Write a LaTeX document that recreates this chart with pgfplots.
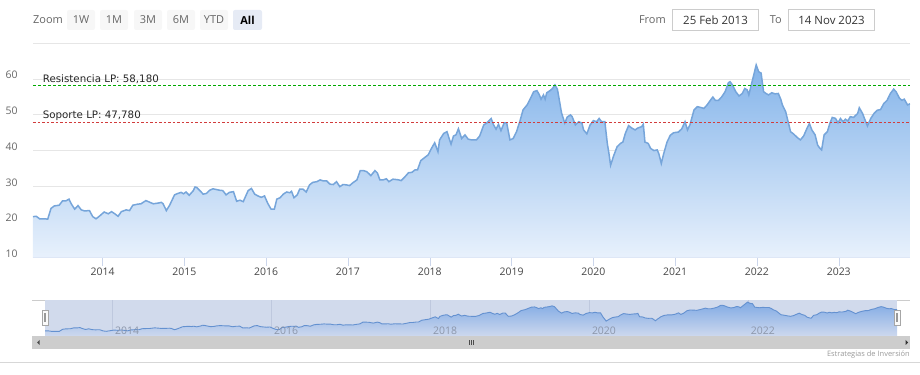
\documentclass[border=0pt]{standalone}
\usepackage{pgfplots}
\pgfplotsset{compat=1.18}
\usepackage{pgfplotstable}
\usepackage{fontspec}
\setmainfont{Open Sans}
\newfontfamily\labfont{DejaVu Sans}
\definecolor{gridc}{RGB}{230,230,230}
\definecolor{axisc}{RGB}{204,214,235}
\definecolor{labc}{RGB}{102,102,102}
\definecolor{xlabc}{RGB}{70,70,70}
\definecolor{linec}{RGB}{118,165,218}
\definecolor{areatop}{RGB}{132,180,234}
\definecolor{areabot}{RGB}{232,241,252}
\definecolor{supc}{RGB}{210,60,60}
\definecolor{navmask}{RGB}{209,218,236}
\definecolor{navline}{RGB}{100,145,208}
\definecolor{navtop}{RGB}{128,170,228}
\definecolor{navbot}{RGB}{205,216,238}
\definecolor{navgrid}{RGB}{190,200,222}
\definecolor{navlab}{RGB}{140,150,170}
\definecolor{scrollc}{RGB}{205,205,205}
\definecolor{btnc}{RGB}{247,247,247}
\definecolor{btnsel}{RGB}{230,235,245}
\definecolor{boxc}{RGB}{204,204,204}
\definecolor{sepc}{RGB}{215,215,215}

\pgfplotstableread{
t v
2013.15 21.5
2013.19 21.6
2013.23 20.9
2013.29 20.9
2013.33 20.8
2013.37 23.8
2013.41 24.5
2013.47 24.7
2013.51 25.9
2013.55 25.9
2013.59 26.4
2013.62 25.0
2013.66 23.6
2013.70 24.6
2013.74 23.4
2013.78 23.1
2013.84 23.2
2013.88 21.5
2013.92 20.9
2013.96 21.6
2014.02 22.8
2014.07 22.3
2014.11 22.9
2014.15 22.3
2014.19 21.6
2014.23 22.9
2014.29 23.4
2014.33 23.2
2014.37 24.7
2014.43 25.0
2014.47 25.1
2014.53 26.0
2014.58 25.5
2014.62 25.1
2014.68 25.3
2014.72 25.5
2014.74 25.1
2014.78 23.2
2014.82 24.7
2014.88 27.6
2014.92 28.0
2014.96 28.3
2014.99 27.9
2015.02 28.4
2015.06 27.5
2015.11 28.8
2015.13 29.8
2015.15 29.7
2015.19 28.8
2015.23 27.8
2015.27 28.0
2015.31 28.9
2015.35 29.3
2015.39 29.1
2015.43 28.9
2015.47 28.8
2015.51 27.6
2015.55 28.3
2015.60 28.5
2015.64 25.8
2015.68 26.1
2015.72 25.7
2015.78 28.8
2015.82 29.4
2015.86 27.8
2015.90 27.3
2015.94 26.9
2015.98 27.3
2016.02 25.2
2016.06 23.6
2016.10 23.6
2016.13 26.4
2016.17 26.8
2016.21 27.8
2016.25 28.4
2016.29 28.2
2016.31 28.6
2016.34 26.8
2016.38 27.6
2016.41 29.2
2016.45 29.2
2016.49 28.4
2016.53 30.4
2016.57 31.1
2016.62 31.3
2016.66 31.8
2016.70 31.5
2016.74 31.5
2016.78 30.6
2016.82 30.5
2016.86 31.3
2016.90 29.9
2016.94 30.5
2016.98 30.4
2017.02 30.2
2017.06 31.0
2017.11 31.8
2017.15 34.4
2017.19 34.4
2017.23 34.1
2017.28 33.0
2017.33 34.4
2017.36 33.7
2017.39 31.8
2017.43 31.8
2017.47 32.1
2017.50 31.3
2017.55 32.0
2017.62 31.8
2017.65 31.6
2017.69 32.5
2017.74 33.8
2017.78 33.9
2017.82 34.6
2017.85 34.6
2017.89 37.2
2017.94 38.1
2017.98 38.8
2018.02 40.6
2018.06 42.2
2018.10 39.7
2018.12 43.0
2018.17 44.8
2018.21 45.3
2018.26 41.8
2018.29 44.1
2018.32 44.4
2018.35 46.1
2018.39 43.4
2018.43 44.4
2018.47 43.2
2018.51 43.0
2018.57 43.0
2018.61 44.1
2018.66 47.2
2018.70 47.8
2018.75 49.0
2018.78 47.2
2018.81 46.0
2018.84 47.4
2018.87 45.6
2018.91 47.8
2018.94 47.8
2018.98 43.0
2019.02 43.4
2019.06 45.3
2019.10 48.1
2019.14 51.4
2019.19 52.8
2019.23 54.6
2019.27 56.5
2019.31 56.8
2019.34 55.6
2019.36 54.4
2019.39 55.6
2019.41 54.4
2019.43 56.2
2019.47 56.8
2019.50 57.4
2019.53 58.4
2019.56 57.2
2019.59 53.3
2019.61 50.6
2019.65 47.7
2019.68 49.4
2019.72 50.0
2019.74 49.5
2019.78 47.2
2019.82 48.1
2019.86 47.7
2019.88 45.8
2019.92 44.7
2019.96 47.2
2020.00 48.4
2020.04 48.1
2020.07 49.0
2020.10 48.1
2020.14 48.1
2020.17 42.0
2020.19 39.2
2020.21 35.9
2020.25 38.7
2020.29 41.1
2020.33 42.0
2020.36 42.4
2020.39 44.8
2020.43 47.0
2020.47 46.3
2020.51 45.8
2020.54 46.3
2020.59 46.7
2020.61 47.4
2020.63 42.4
2020.67 42.0
2020.70 40.6
2020.74 40.0
2020.78 40.2
2020.80 39.1
2020.83 36.4
2020.86 39.2
2020.90 42.4
2020.94 44.3
2020.98 45.0
2021.04 45.2
2021.08 46.1
2021.12 48.1
2021.15 45.8
2021.18 47.2
2021.23 51.4
2021.27 52.3
2021.31 52.1
2021.35 51.8
2021.39 52.8
2021.43 54.1
2021.46 55.0
2021.49 54.1
2021.53 54.1
2021.57 55.1
2021.61 56.5
2021.65 59.0
2021.67 59.3
2021.70 58.4
2021.74 56.5
2021.78 55.3
2021.82 56.0
2021.85 57.4
2021.88 57.0
2021.90 55.6
2021.93 58.4
2021.96 61.2
2021.99 64.0
2022.02 62.1
2022.05 61.7
2022.08 56.5
2022.11 56.0
2022.14 55.6
2022.18 56.2
2022.22 55.9
2022.26 56.0
2022.29 54.4
2022.31 52.8
2022.35 50.9
2022.38 48.1
2022.41 45.3
2022.45 44.6
2022.49 43.7
2022.53 43.0
2022.57 44.1
2022.61 46.2
2022.64 47.6
2022.67 45.8
2022.71 44.4
2022.74 41.6
2022.76 40.9
2022.79 40.2
2022.82 44.4
2022.86 45.3
2022.89 47.6
2022.92 49.3
2022.96 49.0
2022.99 47.8
2023.02 49.0
2023.05 48.1
2023.08 48.8
2023.11 48.3
2023.14 49.5
2023.18 49.3
2023.23 50.4
2023.25 52.0
2023.29 50.4
2023.32 48.6
2023.35 46.9
2023.39 49.0
2023.43 50.4
2023.47 51.3
2023.51 51.5
2023.55 53.2
2023.59 54.1
2023.63 56.0
2023.67 57.2
2023.70 56.5
2023.74 54.7
2023.77 54.1
2023.80 54.4
2023.84 52.8
2023.87 53.1
}\pricedata

\pgfplotstableread{
t v
2013.15 58.18
2023.87 58.18
}\resdata
\pgfplotstableread{
t v
2013.15 47.78
2023.87 47.78
}\supdata

\begin{document}
\begin{tikzpicture}[font=\fontsize{10.5}{12}\selectfont]
\useasboundingbox (0,0) rectangle (920bp,375bp);

% ---- toolbar ----
\node[anchor=west, text=labc, inner sep=0, font=\fontsize{11}{13}\selectfont] at (33bp,355bp) {Zoom};
\foreach \xa/\lab in {67/1W,100/1M,134/3M,167/6M,200/YTD}{
  \fill[btnc, rounded corners=2bp] (\xa bp,345bp) rectangle ++(28bp,20bp);
  \node[text=labc, inner sep=0, font=\fontsize{11}{13}\selectfont] at ([xshift=14bp]\xa bp,355bp) {\lab};
}
\fill[btnsel, rounded corners=2bp] (233bp,345bp) rectangle ++(29bp,20bp);
\node[text=black, inner sep=0, font=\fontsize{11}{13}\selectfont] at (247.5bp,355bp) {\bfseries All};
\node[anchor=east, text=labc, inner sep=0, font=\fontsize{11}{13}\selectfont] at (666bp,355bp) {From};
\draw[boxc, fill=white] (672.5bp,344.5bp) rectangle (758.5bp,365.5bp);
\node[text=black!80, inner sep=0, font=\fontsize{11.5}{13}\selectfont] at (715.5bp,355bp) {25 Feb 2013};
\node[anchor=east, text=labc, inner sep=0, font=\fontsize{11}{13}\selectfont] at (782bp,355bp) {To};
\draw[boxc, fill=white] (788.5bp,344.5bp) rectangle (874.5bp,365.5bp);
\node[text=black!80, inner sep=0, font=\fontsize{11.5}{13}\selectfont] at (831.5bp,355bp) {14 Nov 2023};

% ---- main chart ----
\begin{axis}[
  at={(33bp,117.3bp)}, anchor=south west, scale only axis,
  width=877bp, height=214.2bp,
  xmin=2013.15, xmax=2023.87, ymin=10, ymax=70,
  axis x line*=bottom, axis y line*=left,
  y axis line style={draw=none},
  x axis line style={draw=axisc},
  ytick={10,20,...,70}, yticklabels={10,20,30,40,50,60,},
  xtick={2014,...,2023},
  ytick style={draw=none},
  xtick style={draw=axisc},
  major tick length=8bp, tick align=outside,
  ymajorgrids, grid style={gridc, line width=0.8bp},
  /pgf/number format/assume math mode=true,
  /pgf/number format/1000 sep={},
  yticklabel style={text=labc, font=\fontsize{10.5}{12}\selectfont, xshift=-4bp, yshift=4bp},
  xticklabel style={text=xlabc, font=\fontsize{10.5}{12}\selectfont, yshift=1bp},
  clip=true,
]
\addplot[draw=none, top color=areatop, bottom color=areabot] table[x=t,y=v]{\pricedata} \closedcycle;
\addplot[linec, line width=1.5bp] table[x=t,y=v]{\pricedata};
\addplot[color={rgb,255:red,0;green,170;blue,0}, line width=1.3bp, dash pattern=on 3bp off 2bp] table[x=t,y=v]{\resdata};
\addplot[color=supc, line width=1.1bp, dash pattern=on 2.5bp off 2bp] table[x=t,y=v]{\supdata};
\node[anchor=south west, inner sep=1.5bp, text=black!85, font=\labfont\fontsize{10.3}{12}\selectfont] at (axis cs:2013.25,58.18) {Resistencia LP: 58,180};
\node[anchor=south west, inner sep=1.5bp, text=black!85, font=\labfont\fontsize{10.3}{12}\selectfont] at (axis cs:2013.25,47.78) {Soporte LP: 47,780};
\end{axis}

% ---- navigator ----
\draw[boxc] (32bp,75bp) -- (910bp,75bp);
\begin{axis}[
  at={(45bp,39bp)}, anchor=south west, scale only axis,
  width=852bp, height=36bp,
  xmin=2013.15, xmax=2023.87, ymin=14, ymax=67,
  axis line style={draw=none},
  axis background/.style={fill=navmask},
  xtick={2014,2016,...,2022}, xticklabels={},
  ytick=\empty, xtick style={draw=none},
  xmajorgrids, grid style={navgrid, line width=0.8bp},
  clip=true,
]
\addplot[draw=none, top color=navtop, bottom color=navbot] table[x=t,y=v]{\pricedata} \closedcycle;
\addplot[navline, line width=0.9bp] table[x=t,y=v]{\pricedata};
\foreach \yy in {2014,2016,2018,2020,2022}{
  \edef\tmp{\noexpand\node[anchor=south west, inner sep=0, text=navlab, font=\noexpand\fontsize{10.5}{12}\noexpand\selectfont] at (axis cs:\yy.03,16.5) {\yy};}
  \tmp
}
\end{axis}
% handles
\foreach \hx in {42,894}{
  \filldraw[fill=white!96!gray, draw=gray!70, line width=0.6bp] (\hx bp,50bp) rectangle ++(6bp,15bp);
  \draw[gray!80, line width=0.5bp] ([xshift=2.3bp]\hx bp,53bp) -- ++(0,9bp);
  \draw[gray!80, line width=0.5bp] ([xshift=3.7bp]\hx bp,53bp) -- ++(0,9bp);
}
% scrollbar
\fill[scrollc] (32bp,26bp) rectangle (910bp,39bp);
\fill[black!70] (37bp,32.5bp) -- (39.5bp,35bp) -- (39.5bp,30bp) -- cycle;
\fill[black!80] (908bp,32.5bp) -- (905.5bp,35bp) -- (905.5bp,30bp) -- cycle;
\foreach \gx in {469,471,473}{\draw[black!70, line width=0.6bp] (\gx bp,30bp) -- ++(0,5bp);}
% credits
\node[anchor=east, inner sep=0, text=gray!80, font=\fontsize{7.5}{8}\selectfont] at (910bp,20bp) {Estrategias de Inversión};
\draw[sepc, line width=0.8bp] (0,13bp) -- (920bp,13bp);
\end{tikzpicture}
\end{document}
